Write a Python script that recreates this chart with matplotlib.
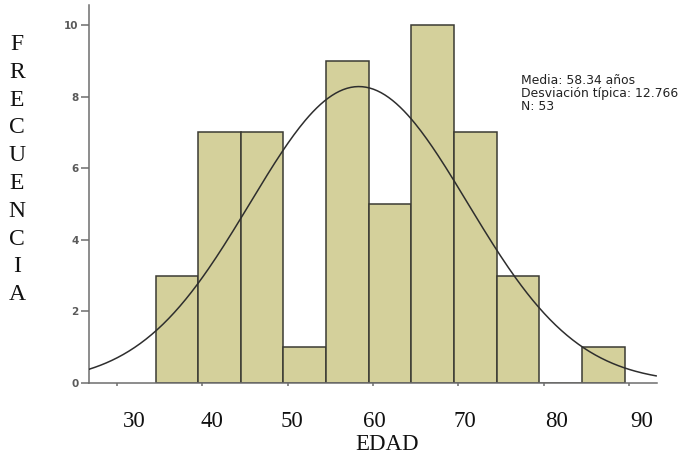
import numpy as np
import matplotlib
matplotlib.use("Agg")
import matplotlib.pyplot as plt
from matplotlib.transforms import ScaledTranslation

# datos
bordes = [34.5, 39.5, 44.5, 49.5, 54.5, 59.5, 64.5, 69.5, 74.5, 79.5, 84.5, 89.5]
frecuencias = [3, 7, 7, 1, 9, 5, 10, 7, 3, 0, 1]
media = 58.34
desviacion = 12.766
n = 53
xticks = [30, 40, 50, 60, 70, 80, 90]
xtick_labels = ["30", "40", "50", "60", "70", "80", "90"]
yticks = [0, 2, 4, 6, 8, 10]
# desplazamiento horizontal de cada etiqueta (px) como en la imagen original
xtick_shift = [17, 10, 4, 1, 7, 13, 13]

W, H = 693, 454
fig = plt.figure(figsize=(W / 100, H / 100), dpi=100)
ax = fig.add_axes([89 / W, 71 / H, 568 / W, 378 / H])

anchos = np.diff(bordes)
ax.bar(bordes[:-1], frecuencias, width=anchos, align="edge",
       color="#d4d09b", edgecolor="#3b3b33", linewidth=1.1, zorder=2)

# curva normal ajustada
xlim = (26.7, 93.3)
xs = np.linspace(xlim[0], 93.2, 300)
escala = n * anchos[0]
ys = escala / (desviacion * np.sqrt(2 * np.pi)) * np.exp(-0.5 * ((xs - media) / desviacion) ** 2)
ax.plot(xs, ys, color="#2e2e2e", linewidth=1.1, zorder=3)

ax.set_xlim(*xlim)
ax.set_ylim(0, 10.56)

for s in ["top", "right"]:
    ax.spines[s].set_visible(False)
for s in ["left", "bottom"]:
    ax.spines[s].set_color("#6e6e6e")
    ax.spines[s].set_linewidth(1.1)

ax.set_yticks(yticks)
ax.set_yticklabels([str(v) for v in yticks], fontsize=7.5, fontweight="bold",
                   color="#5a5a5a", family="DejaVu Sans")
ax.tick_params(axis="y", length=6, width=1.1, color="#6e6e6e", pad=1.5)

ax.set_xticks(xticks)
ax.set_xticklabels(xtick_labels, fontsize=16.5, family="Liberation Serif", color="#111111")
ax.tick_params(axis="x", length=2.5, width=1.1, color="#6e6e6e", pad=17.5)
for lab, dx in zip(ax.get_xticklabels(), xtick_shift):
    lab.set_transform(lab.get_transform() + ScaledTranslation(dx / 100, 0, fig.dpi_scale_trans))

ax.set_xlabel("EDAD", fontsize=16.5, family="Liberation Serif", color="#111111", labelpad=0)
ax.xaxis.set_label_coords((387 - 89) / 568, (383 - 444) / 378)
ax.xaxis.label.set_va("center")

# etiqueta vertical letra por letra
for i, ch in enumerate("FRECUENCIA"):
    fig.text(17 / W, 1 - (44.5 + i * 27.8) / H, ch, ha="center", va="center",
             fontsize=17, family="Liberation Serif", color="#111111")

info = ["Media: %.2f años" % media, "Desviación típica: %.3f" % desviacion, "N: %d" % n]
for i, t in enumerate(info):
    fig.text(521 / W, 1 - (80 + i * 13.5) / H, t, ha="left", va="center",
             fontsize=8.9, family="DejaVu Sans", color="#222222")

fig.savefig("out.png", dpi=100)
